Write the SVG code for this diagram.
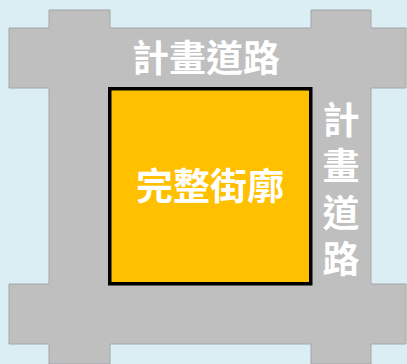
<svg xmlns="http://www.w3.org/2000/svg" width="407" height="364" viewBox="0 0 407 364">
<style>
.lbl{font-family:"Noto Sans CJK TC","Noto Sans CJK SC",sans-serif;font-weight:700;font-size:37px;fill:#ffffff;text-anchor:middle}
.vert{writing-mode:vertical-rl;text-orientation:upright;text-anchor:start;letter-spacing:9.5px}
</style>
<rect x="0" y="0" width="407" height="364" fill="#daeef3"/>
<g id="roads">
<path d="M49,10 H110 V28 H311 V10 H371 V28 H406 V88 H371 V284 H406 V344 H371 V364 H311 V344 H110 V364 H49 V344 H9 V284 H49 V88 H9 V28 H49 Z" fill="#bfbfbf" stroke="#a3a6a8" stroke-width="1"/>
<text class="lbl" x="206" y="72">計畫道路</text>
<text class="lbl vert" x="341" y="101">計畫道路</text>
</g>
<g id="block">
<rect x="109.75" y="88.75" width="201" height="195" fill="#ffc000" stroke="#000000" stroke-width="3.5"/>
<text class="lbl" x="210" y="200">完整街廓</text>
</g>
</svg>
